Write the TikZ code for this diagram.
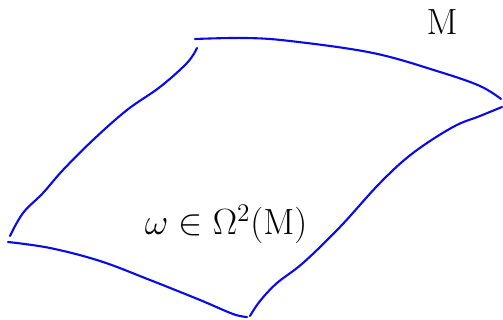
\documentclass[tikz,border=0pt]{standalone}
\usepackage{tikz}
\usetikzlibrary{positioning}
\usepackage{amsmath}
\definecolor{cPen}{RGB}{10,10,230}

\begin{document}
\begin{tikzpicture}[x=0.02cm, y=-0.02cm,
            edge/.style={draw=cPen, line width=1.2pt, line cap=round, smooth, tension=0.6},
            lbl/.style={inner sep=0pt, font=\fontsize{20}{24}\selectfont}]
            \useasboundingbox (0,0) rectangle (503,320);
            % the four sides of the sheet
            \draw[edge] plot coordinates {(195,39) (245,38) (290,41) (373,53) (440,72) (480,86) (501,99)};
            \draw[edge] plot coordinates {(197,48) (187,63) (160,87) (127,110) (93,140) (63,170) (43,193) (23,213) (10,236)};
            \draw[edge] plot coordinates {(8,242) (50,248) (100,261) (150,280) (200,300) (233,314) (247,317)};
            \draw[edge] plot coordinates {(250,316) (260,301) (277,283) (303,263) (340,227) (380,183) (413,153) (453,127) (480,116) (502,107)};
            % labels
            \node[lbl] (man) at (442,22) {$\mathrm{M}$};
            \node[lbl] (form) at (226,224) {$\omega\in\Omega^2(\mathrm{M})$};
        \end{tikzpicture}
\end{document}
